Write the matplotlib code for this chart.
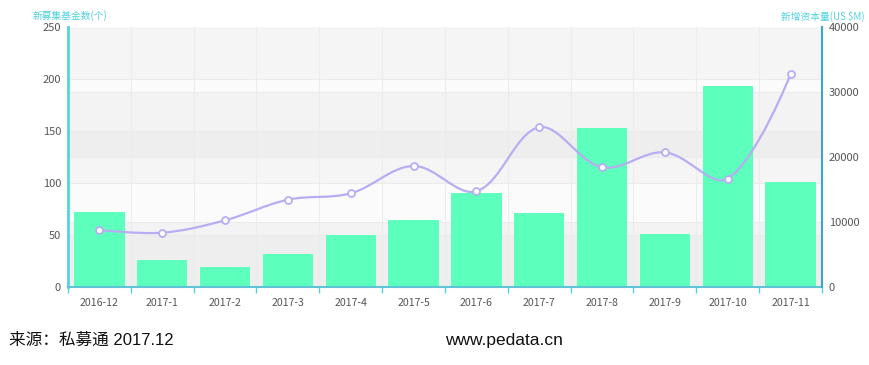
import numpy as np
import matplotlib.pyplot as plt
from matplotlib.path import Path
from matplotlib.patches import PathPatch, Rectangle
from matplotlib.transforms import blended_transform_factory

plt.rcParams['font.family'] = ['Noto Sans CJK SC', 'DejaVu Sans']

months = ['2016-12', '2017-1', '2017-2', '2017-3', '2017-4', '2017-5',
          '2017-6', '2017-7', '2017-8', '2017-9', '2017-10', '2017-11']
fund_count = [72, 26, 19, 32, 50, 64, 90, 71, 153, 51, 193, 101]
capital = [8770, 8350, 10260, 13430, 14410, 18620,
           14720, 24570, 18420, 20720, 16670, 32720]
left_ticks = [0, 50, 100, 150, 200, 250]
right_ticks = [0, 10000, 20000, 30000, 40000]

bar_color = '#5cffbb'
line_color = '#b8adf3'
cyan = '#55d3e3'

fig = plt.figure(figsize=(8.7, 3.65), dpi=100)
ax = fig.add_axes([68/870, 1-287/365, (822-68)/870, (287-27)/365])
ax2 = ax.twinx()

x = np.arange(len(months))
ax.set_xlim(-0.5, len(months)-0.5)
ax.set_ylim(0, 250)
ax2.set_ylim(0, 40000)

# background bands (split areas of both axes)
ax.set_facecolor('#fbfbfb')
for i in range(0, len(left_ticks)-1, 2):
    ax.axhspan(left_ticks[i], left_ticks[i+1], color='#c8c8c8', alpha=0.1, lw=0, zorder=0)
tr = blended_transform_factory(ax.transAxes, ax2.transData)
for i in range(0, len(right_ticks)-1, 2):
    ax.add_patch(Rectangle((0, right_ticks[i]), 1, right_ticks[i+1]-right_ticks[i],
                           transform=tr, color='#c8c8c8', alpha=0.14, lw=0, zorder=0))

# grid lines
for v in left_ticks[1:-1]:
    ax.axhline(v, color='#ebebeb', lw=0.8, zorder=0.5)
for v in right_ticks[1:-1]:
    ax.add_line(plt.Line2D([0, 1], [v, v], transform=tr, color='#ebebeb', lw=0.8, zorder=0.5))
for b in np.arange(0.5, len(months)-0.5, 1):
    ax.axvline(b, color='#ececec', lw=0.8, zorder=0.5)

ax.bar(x, fund_count, width=0.8, color=bar_color, zorder=2)

# smooth line (bezier, echarts-like)
fig.canvas.draw()
pts = ax2.transData.transform(np.column_stack([x, capital]))
n = len(pts)
smooth = 0.35
cps = []
for i in range(n):
    if i == 0 or i == n-1:
        cps.append((pts[i], pts[i]))
        continue
    v = pts[i+1] - pts[i-1]
    d0 = np.hypot(*(pts[i]-pts[i-1]))
    d1 = np.hypot(*(pts[i+1]-pts[i]))
    s = d0 + d1
    cps.append((pts[i] - v*smooth*d0/s, pts[i] + v*smooth*d1/s))
verts = [pts[0]]
codes = [Path.MOVETO]
for i in range(n-1):
    verts += [cps[i][1], cps[i+1][0], pts[i+1]]
    codes += [Path.CURVE4]*3
inv = ax2.transData.inverted()
path = Path(inv.transform(np.array(verts)), codes)
ax2.add_patch(PathPatch(path, facecolor='none', edgecolor=line_color, lw=1.6, zorder=3))
ax2.plot(x, capital, linestyle='none', marker='o', markersize=5,
         markerfacecolor='white', markeredgecolor=line_color, markeredgewidth=1.3, zorder=4)

# axes styling
ax.set_xticks(x)
ax.set_xticklabels(months)
ax.set_xticks(np.arange(-0.5, len(months), 1), minor=True)
ax.tick_params(axis='x', which='major', length=0, pad=8, labelsize=7.6, labelcolor='#555555')
ax.tick_params(axis='x', which='minor', length=4, width=1, color=cyan, direction='out')
ax.set_yticks(left_ticks)
ax.tick_params(axis='y', length=0, pad=5, labelsize=8, labelcolor='#555555')
ax2.set_yticks(right_ticks)
ax2.tick_params(axis='y', length=0, pad=5, labelsize=8, labelcolor='#555555')

for a in (ax, ax2):
    a.spines['top'].set_visible(False)
ax.spines['right'].set_visible(False)
ax2.spines['left'].set_visible(False)
ax2.spines['bottom'].set_visible(False)
ax.spines['left'].set_color(cyan)
ax.spines['left'].set_linewidth(2)
ax.spines['bottom'].set_color('#5ec4d6')
ax.spines['bottom'].set_linewidth(1.5)
ax2.spines['right'].set_color('#3ba6c6')
ax2.spines['right'].set_linewidth(1.5)

fig.text(33/870, 1-16/365, '新募集基金数(个)', fontsize=7, color='#4fd2e0', va='center', ha='left')
fig.text(865/870, 1-16/365, '新增资本量(US $M)', fontsize=7, color='#4fd2e0', va='center', ha='right')

fig.text(9/870, 1-340/365, '来源：私募通 2017.12', fontsize=12,
         family=['Liberation Sans', 'Noto Sans CJK SC'], color='#111111', va='center', ha='left')
fig.text(504/870, 1-340/365, 'www.pedata.cn', fontsize=12.5,
         family=['Liberation Sans'], color='#111111', va='center', ha='center')

fig.savefig('out.png', dpi=100, facecolor='white')
